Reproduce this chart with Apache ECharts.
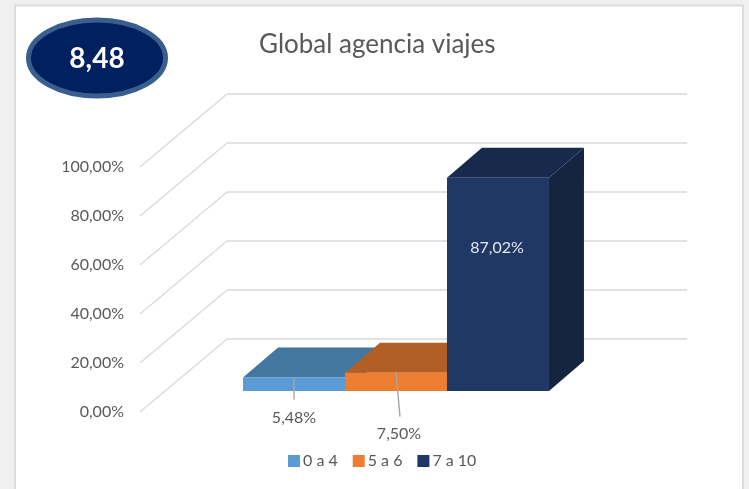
<!DOCTYPE html>
<html>
<head>
    <meta charset="utf-8">
    <title>Global agencia viajes</title>
    <script src="https://cdn.jsdelivr.net/npm/echarts@6/dist/echarts.min.js"></script>
    <style>
        body, html { margin: 0; padding: 0; height: 100%; overflow: hidden; }
        #main { width: 749px; height: 489px; }
    </style>
</head>
<body>
    <div id="main"></div>
    <script>
        var myChart = echarts.init(document.getElementById('main'));

        // data
        const categories = ['0 a 4', '5 a 6', '7 a 10'];
        const values = [5.48, 7.50, 87.02];
        const ticks = [0, 20, 40, 60, 80, 100];
        const chartTitle = 'Global agencia viajes';
        const badgeText = '8,48';

        // colours: front, top, side
        const frontColors = ['#5b9bd5', '#ed7d31', '#1f3864'];
        const topColors = ['#4476a2', '#b15f25', '#182a4c'];
        const sideColors = ['#3a6488', '#8f4d1e', '#152540'];

        const font = 'Lato';
        const wallDepth = [87, -73];     // floor depth of the 3d box
        const barShift = [26, -21];      // where the bar fronts sit inside the box
        const barDepth = [35, -30];
        const barRatio = 0.2217;

        // label placement relative to the top of the bar's front face, centre x
        const labelLayout = [
            { from: [0, 0], to: [0, 22], text: [0, 40] },
            { from: [0, 0], to: [4, 44], text: [3, 61] },
            { text: [-1, 70] }
        ];

        function pct(v) {
            return v.toFixed(2).replace('.', ',') + '%';
        }

        function renderWall(params, api) {
            const band = api.size([1, 0])[0];
            const p = api.coord([0, api.value(1)]);
            const x0 = p[0] - band / 2;
            const x1 = p[0] + band / 2;
            return {
                type: 'group',
                children: [{
                    type: 'line',
                    shape: { x1: x0, y1: p[1], x2: x0 + wallDepth[0], y2: p[1] + wallDepth[1] },
                    style: { stroke: '#d9d9d9', lineWidth: 1.2 }
                }, {
                    type: 'line',
                    shape: { x1: x0 + wallDepth[0], y1: p[1] + wallDepth[1], x2: x1 + wallDepth[0], y2: p[1] + wallDepth[1] },
                    style: { stroke: '#e2e2e2', lineWidth: 2 }
                }]
            };
        }

        function makeRenderBar(i) {
            return function (params, api) {
                const band = api.size([1, 0])[0];
                const w = band * barRatio;
                const base = api.coord([0, 0]);
                const head = api.coord([0, api.value(1)]);
                const cx = base[0] + barShift[0] + (i - 1) * w;
                const l = cx - w / 2, r = cx + w / 2;
                const b = base[1] + barShift[1], t = head[1] + barShift[1];
                const dx = barDepth[0], dy = barDepth[1];
                const children = [{
                    type: 'polygon',
                    shape: { points: [[r, b], [r + dx, b + dy], [r + dx, t + dy], [r, t]] },
                    style: { fill: sideColors[i] }
                }, {
                    type: 'polygon',
                    shape: { points: [[l, t], [r, t], [r + dx, t + dy], [l + dx, t + dy]] },
                    style: { fill: topColors[i] }
                }, {
                    type: 'rect',
                    shape: { x: l, y: t, width: w, height: b - t },
                    style: { fill: frontColors[i] }
                }];
                const lay = labelLayout[i];
                if (lay.from) {
                    children.push({
                        type: 'line',
                        shape: { x1: cx + lay.from[0], y1: t + lay.from[1], x2: cx + lay.to[0], y2: t + lay.to[1] },
                        style: { stroke: '#a6a6a6', lineWidth: 1.4 }
                    });
                }
                children.push({
                    type: 'text',
                    x: cx + lay.text[0],
                    y: t + lay.text[1],
                    style: {
                        text: pct(api.value(1)),
                        fill: i === 2 ? '#e6e8ee' : '#595959',
                        font: '16px ' + font,
                        align: 'center',
                        verticalAlign: 'middle'
                    }
                });
                return { type: 'group', children: children };
            };
        }

        const option = {
            backgroundColor: '#f0f0f0',
            animation: false,
            title: {
                text: chartTitle,
                left: 254,
                top: 27,
                textStyle: { color: '#595959', fontSize: 26, fontWeight: 'normal', fontFamily: font }
            },
            legend: {
                data: categories,
                left: 288,
                top: 453,
                padding: 0,
                icon: 'rect',
                itemWidth: 12,
                itemHeight: 12,
                itemGap: 15,
                textStyle: { color: '#595959', fontSize: 16, fontFamily: font, padding: [0, 0, 0, -2] }
            },
            grid: { left: 140, right: 149, top: 167, bottom: 77 },
            xAxis: { type: 'category', data: ['Global'], show: false },
            yAxis: {
                type: 'value',
                min: 0,
                max: 100,
                interval: 20,
                axisLine: { show: false },
                axisTick: { show: false },
                splitLine: { show: false },
                axisLabel: {
                    margin: 16,
                    color: '#595959',
                    fontSize: 16,
                    fontFamily: font,
                    padding: [6, 0, 0, 0],
                    formatter: pct
                }
            },
            graphic: [
                { type: 'rect', shape: { x: 15, y: 5.5, width: 728, height: 500 }, style: { fill: '#fff', stroke: '#dcdcdc', lineWidth: 2 } },
                { type: 'ellipse', shape: { cx: 97, cy: 58, rx: 68.5, ry: 38 }, style: { fill: '#002060', stroke: '#3a5f8e', lineWidth: 5 } },
                { type: 'text', x: 97, y: 59, style: { text: badgeText, fill: '#fff', font: 'bold 28px ' + font, align: 'center', verticalAlign: 'middle' } }
            ],
            series: [{
                type: 'custom',
                name: 'wall',
                z: 1,
                silent: true,
                renderItem: renderWall,
                data: ticks.map(t => [0, t]),
                encode: { x: 0, y: 1 }
            }].concat(categories.map((name, i) => ({
                type: 'custom',
                name: name,
                z: 2 + i,
                itemStyle: { color: frontColors[i] },
                renderItem: makeRenderBar(i),
                data: [[0, values[i]]],
                encode: { x: 0, y: 1 }
            })))
        };

        myChart.setOption(option);
    </script>
</body>
</html>
